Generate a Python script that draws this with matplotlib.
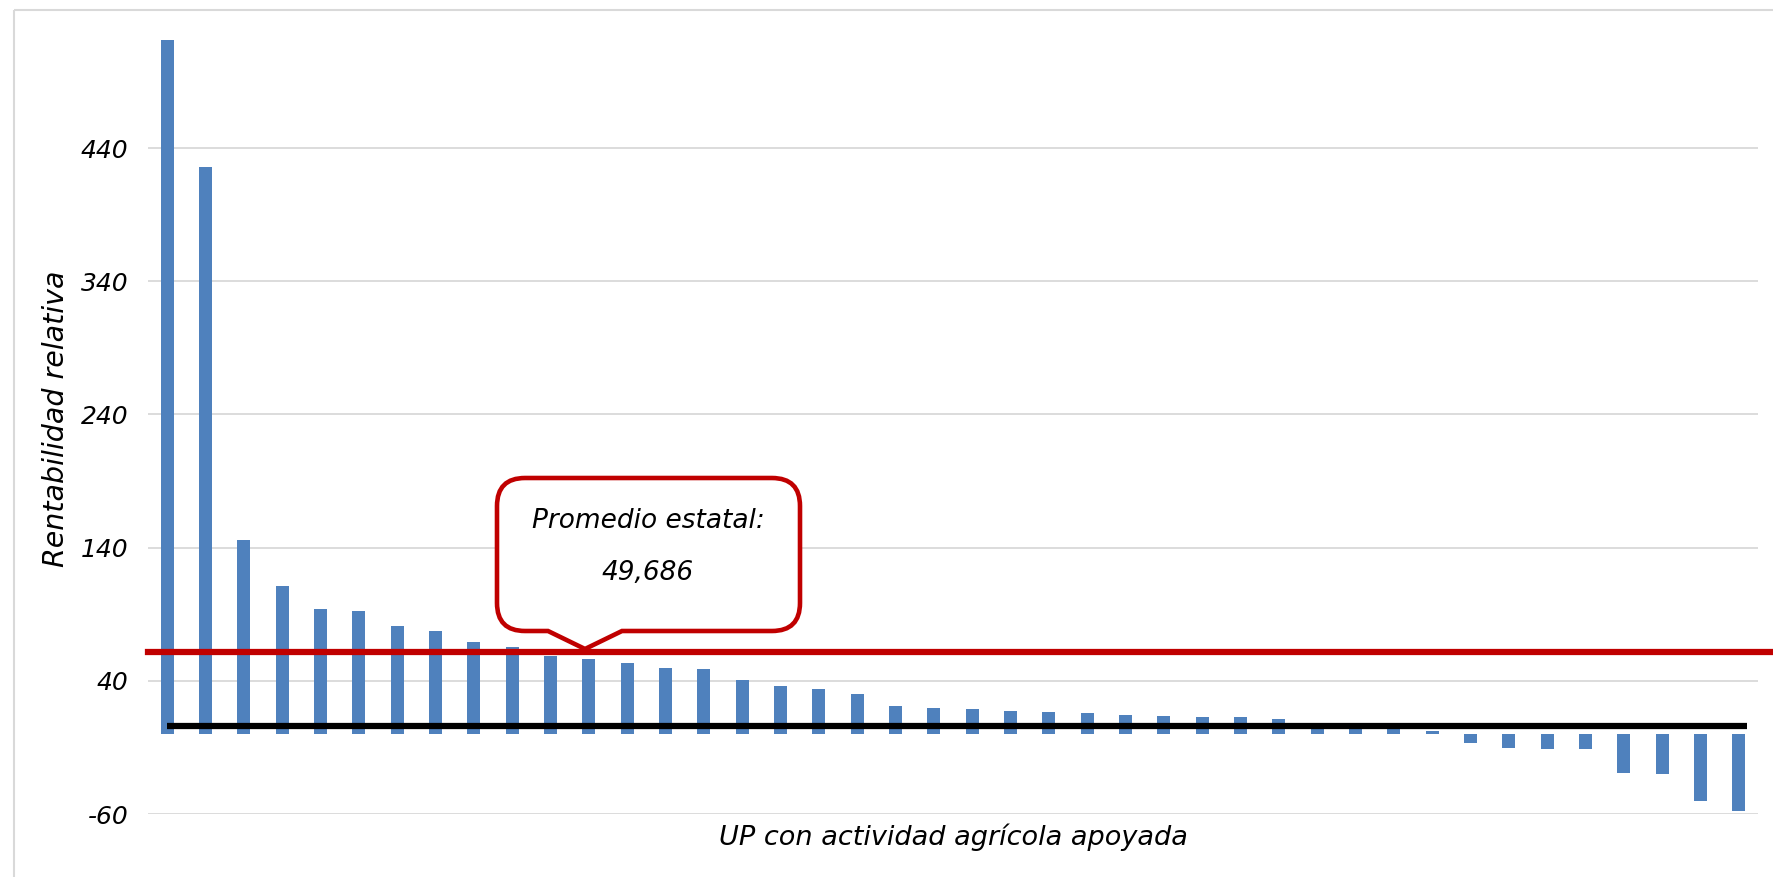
import matplotlib.pyplot as plt
from matplotlib.path import Path
from matplotlib.patches import PathPatch, Rectangle
from matplotlib.transforms import Affine2D

# rentabilidad relativa por UP (ordenada de mayor a menor)
valores = [521, 426, 145.4, 111.3, 93.7, 92.4, 81.1, 77.7, 68.9, 65.5,
           58.4, 56.5, 53.5, 49.8, 48.8, 41, 36, 33.5, 30.3, 21,
           19.8, 19, 17.3, 16.8, 16, 14.3, 13.3, 12.8, 12.5, 11,
           5, 5, 4.5, 2, -6.5, -10.5, -11, -11.5, -29.3, -30.3,
           -50.5, -57.5]
y_ticks = [-60, 40, 140, 240, 340, 440]
linea_promedio = 62
linea_cero = 6
texto_promedio = ["Promedio estatal:", "49,686"]

W, H = 1773, 877
fig = plt.figure(figsize=(W / 100, H / 100), dpi=100)
plt.rcParams['font.family'] = ['DejaVu Sans']
plt.rcParams['axes.unicode_minus'] = False

# pixel coords of the original image (y down) -> figure
px = Affine2D().scale(1 / W, -1 / H).translate(0, 1) + fig.transFigure

ax = fig.add_axes([148 / W, 1 - 814 / H, 1610 / W, 799 / H])
x = range(len(valores))
ax.bar(x, valores, width=0.34, color='#4F81BD', zorder=2)

ax.set_xlim(-0.5, len(valores) - 0.5)
ax.set_ylim(-60, 540)
ax.set_yticks(y_ticks)
ax.set_xticks([])
ax.grid(axis='y', color='#D9D9D9', lw=1.3, zorder=0)
for s in ax.spines.values():
    s.set_visible(False)
ax.tick_params(axis='y', length=0, pad=14, labelsize=18)
for t in ax.get_yticklabels():
    t.set_fontstyle('italic')

ax.set_ylabel("Rentabilidad relativa", fontsize=20.5, style='italic')
ax.yaxis.set_label_coords(-0.0484, 0.495)
ax.set_xlabel("UP con actividad agrícola apoyada", fontsize=19.5, style='italic')
ax.xaxis.set_label_coords(0.5, -0.029)
ax.xaxis.label.set_va('center')

# black reference line and red average line
ax.plot([0, 41.2], [linea_cero, linea_cero], color='black', lw=4.5, zorder=3,
        solid_capstyle='butt')
ax.axhline(linea_promedio, xmin=0, xmax=(W - 148) / 1610, color='#C00000',
           lw=4.5, zorder=3, clip_on=False)

# callout box
L, R, T, B, r = 497, 800, 478, 631, 28
verts = [(L + r, T), (R - r, T), (R, T), (R, T + r), (R, B - r), (R, B), (R - r, B),
         (622, B), (585, 649), (548, B), (L + r, B), (L, B), (L, B - r),
         (L, T + r), (L, T), (L + r, T), (L + r, T)]
codes = [Path.MOVETO, Path.LINETO, Path.CURVE3, Path.CURVE3, Path.LINETO,
         Path.CURVE3, Path.CURVE3, Path.LINETO, Path.LINETO, Path.LINETO,
         Path.LINETO, Path.CURVE3, Path.CURVE3, Path.LINETO, Path.CURVE3,
         Path.CURVE3, Path.CLOSEPOLY]
fig.patches.append(PathPatch(Path(verts, codes), transform=px, facecolor='white',
                             edgecolor='#C00000', lw=3.3, zorder=5))
fig.text(648, 521, texto_promedio[0], transform=px, ha='center', va='center',
         fontsize=19, style='italic', zorder=6)
fig.text(648, 573, texto_promedio[1], transform=px, ha='center', va='center',
         fontsize=19, style='italic', zorder=6)

# chart frame
fig.patches.append(Rectangle((14, 10), W, H, transform=px, fill=False,
                             edgecolor='#D9D9D9', lw=1.5))

fig.savefig("out.png", dpi=100)
